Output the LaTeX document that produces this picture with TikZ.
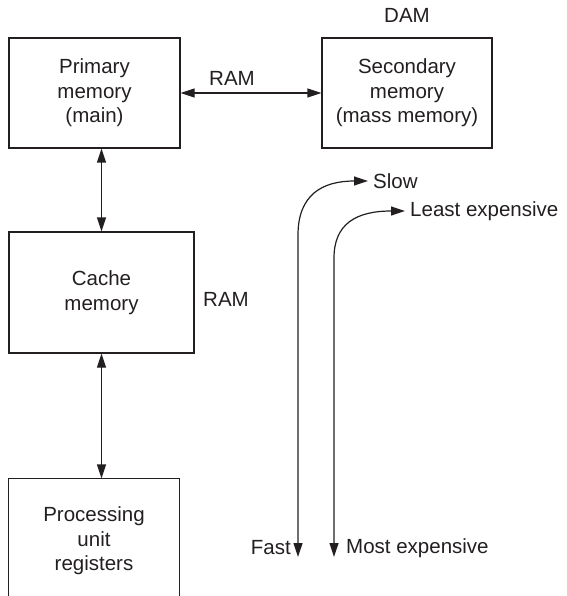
\documentclass[tikz,border=0pt]{standalone}
\usepackage{fontspec}
\setmainfont{Liberation Sans}
\usetikzlibrary{arrows.meta}
\definecolor{ink}{HTML}{231F20}
\begin{document}
\begin{tikzpicture}[x=1pt,y=-1pt,color=ink,
  box/.style={draw,line width=1.2pt,align=center,inner sep=0pt,
    font=\fontsize{20.5}{24.5}\selectfont},
  lbl/.style={inner sep=0pt,font=\fontsize{20.5}{24.5}\selectfont},
  tip/.tip={Triangle[length=14pt,width=9pt]},
  arr/.style={line width=1.2pt,tip-tip}]
\useasboundingbox (0,0) rectangle (566,596);
\node[box,minimum width=171pt,minimum height=110pt] (prim) at (94.5,93) {Primary\\memory\\(main)};
\node[box,minimum width=170pt,minimum height=110pt] (sec) at (407,93) {Secondary\\memory\\(mass memory)};
\node[box,minimum width=185pt,minimum height=121pt] (cache) at (101.5,292.5) {Cache\\memory};
\node[box,draw=none,minimum width=170pt,minimum height=124pt] (proc) at (94,541) {Processing\\unit\\registers};
\draw[line width=1.2pt] (proc.south west) -- (proc.north west) -- (proc.north east) -- (proc.south east);
\node[lbl] (dam) at (407,15) {DAM};
\node[lbl] (ram1) at (232,78) {RAM};
\node[lbl] (ram2) at (226,299) {RAM};
\draw[arr] (prim.east) -- (sec.west);
\draw[arr] (prim.south -| cache.north) -- (cache.north);
\draw[arr] (cache.south) -- (cache.south |- proc.north);
\node[lbl,anchor=west] (slow) at (373,181) {Slow};
\node[lbl,anchor=west] (least) at (410,211) {Least expensive};
\node[lbl,anchor=east] (fast) at (291,548) {Fast};
\node[lbl,anchor=west] (most) at (346,548) {Most expensive};
\coordinate (ftip) at (298,557);
\coordinate (mtip) at (334,557);
\draw[arr] (ftip) -- (298,235) .. controls (298,195) and (322,181) .. ([xshift=-5pt]slow.west);
\draw[arr] (mtip) -- (334,258) .. controls (334,224) and (356,211) .. ([xshift=-5pt]least.west);
\end{tikzpicture}
\end{document}
